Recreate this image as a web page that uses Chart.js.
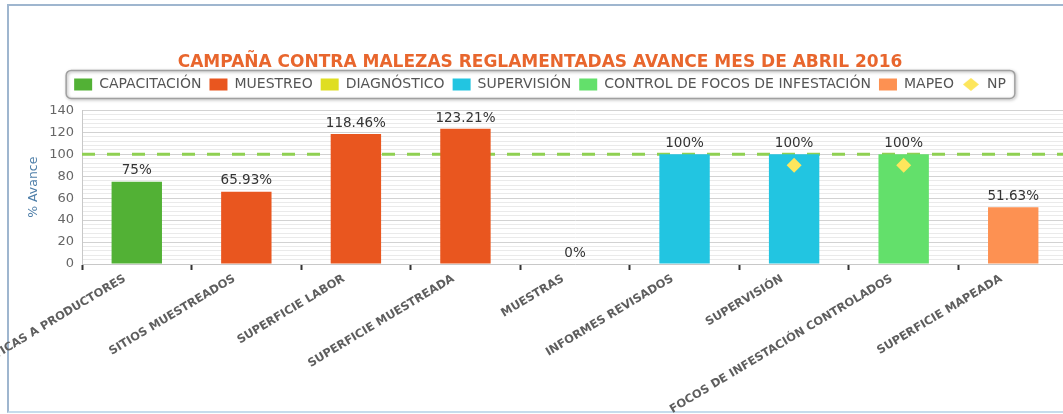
<!DOCTYPE html>
<html lang="es">
<head>
<meta charset="utf-8">
<title>Campaña contra malezas reglamentadas</title>
<script src="https://cdn.jsdelivr.net/npm/chart.js@4.4.1/dist/chart.umd.min.js"></script>
<style>
	html, body { margin: 0; padding: 0; background: #fff; overflow: hidden; }
	#wrap { position: relative; width: 1063px; height: 414px; overflow: hidden; }
	#frame {
		position: absolute; left: 7px; top: 4px; width: 1100px; height: 405px;
		border: 2px solid #9fb6cf; border-bottom-color: #c6dcec; border-right: none;
	}
	#chart { position: absolute; left: 0; top: 0; }
</style>
</head>
<body>
<div id="wrap">
	<div id="frame"></div>
	<canvas id="chart" width="1080" height="414"></canvas>
</div>
<script>
// categories and series, one value per category (null = no bar)
const categories = [
	"PLÁTICAS A PRODUCTORES",
	"SITIOS MUESTREADOS",
	"SUPERFICIE LABOR",
	"SUPERFICIE MUESTREADA",
	"MUESTRAS",
	"INFORMES REVISADOS",
	"SUPERVISIÓN",
	"FOCOS DE INFESTACIÓN CONTROLADOS",
	"SUPERFICIE MAPEADA",
];
const capacitacion = [75, null, null, null, null, null, null, null, null];
const muestreo = [null, 65.93, 118.46, 123.21, null, null, null, null, null];
const diagnostico = [null, null, null, null, 0, null, null, null, null];
const supervision = [null, null, null, null, null, 100, 100, null, null];
const controlFocos = [null, null, null, null, null, null, null, 100, null];
const mapeo = [null, null, null, null, null, null, null, null, 51.63];
const np = [null, null, null, null, null, null, 90, 90, null];

// y axis: 0..140, labels every 20, minor lines every 4
const yMin = 0;
const yMax = 140;
const yMajor = 20;
const yMinor = 4;
const metaValue = 100;

const FONT = '"DejaVu Sans", Verdana, sans-serif';
Chart.defaults.font.family = FONT;

// small diamond used as the NP legend symbol
function diamondSwatch(color) {
	const c = document.createElement("canvas");
	c.width = 16;
	c.height = 13;
	const g = c.getContext("2d");
	g.fillStyle = color;
	g.beginPath();
	g.moveTo(8, 0);
	g.lineTo(16, 6.5);
	g.lineTo(8, 13);
	g.lineTo(0, 6.5);
	g.closePath();
	g.fill();
	return c;
}
const npColor = "#fde65c";
const npSwatch = diamondSwatch(npColor);

// dashed target line at 100%, behind the bars
const metaLine = {
	id: "metaLine",
	beforeDatasetsDraw(chart) {
		const { ctx, chartArea, scales } = chart;
		const y = scales.y.getPixelForValue(metaValue);
		ctx.save();
		ctx.strokeStyle = "#8fd052";
		ctx.lineWidth = 3;
		ctx.setLineDash([13, 12]);
		ctx.beginPath();
		ctx.moveTo(chartArea.left, y);
		ctx.lineTo(chartArea.right, y);
		ctx.stroke();
		ctx.restore();
	},
};

// "75%" style labels above each bar
const barLabels = {
	id: "barLabels",
	afterDatasetsDraw(chart) {
		const ctx = chart.ctx;
		ctx.save();
		ctx.font = "13.5px " + FONT;
		ctx.fillStyle = "#333";
		ctx.textAlign = "center";
		ctx.textBaseline = "bottom";
		chart.data.datasets.forEach((ds, i) => {
			if (ds.type === "line") return;
			const meta = chart.getDatasetMeta(i);
			ds.data.forEach((v, j) => {
				if (v === null) return;
				const bar = meta.data[j];
				ctx.fillText(v + "%", bar.x, bar.y - 4);
			});
		});
		ctx.restore();
	},
};

// rounded box with shadow around the legend
const legendFrame = {
	id: "legendFrame",
	afterDraw(chart) {
		const boxes = chart.legend && chart.legend.legendHitBoxes;
		if (!boxes || !boxes.length) return;
		const first = boxes[0];
		const last = boxes[boxes.length - 1];
		const left = first.left - 8;
		const right = last.left + last.width + 9;
		const top = first.top - 7;
		const bottom = first.top + first.height + 7;
		const ctx = chart.ctx;
		ctx.save();
		ctx.shadowColor = "rgba(0,0,0,0.35)";
		ctx.shadowBlur = 3;
		ctx.shadowOffsetX = 1;
		ctx.shadowOffsetY = 1;
		ctx.strokeStyle = "#a0a0a0";
		ctx.lineWidth = 1.5;
		ctx.beginPath();
		ctx.roundRect(left, top, right - left, bottom - top, 5);
		ctx.stroke();
		ctx.restore();
	},
};

function barSet(label, data, color) {
	return {
		label: label,
		data: data,
		backgroundColor: color,
		borderWidth: 0,
		skipNull: true,
		categoryPercentage: 1,
		barPercentage: 0.46,
		order: 1,
	};
}

const ctx = document.getElementById("chart").getContext("2d");
new Chart(ctx, {
	type: "bar",
	data: {
		labels: categories,
		datasets: [
			barSet("CAPACITACIÓN", capacitacion, "#52b135"),
			barSet("MUESTREO", muestreo, "#e9561f"),
			barSet("DIAGNÓSTICO", diagnostico, "#dfde22"),
			barSet("SUPERVISIÓN", supervision, "#22c5e1"),
			barSet("CONTROL DE FOCOS DE INFESTACIÓN", controlFocos, "#63e06b"),
			barSet("MAPEO", mapeo, "#fd9152"),
			{
				type: "line",
				label: "NP",
				data: np,
				showLine: false,
				pointStyle: "rectRot",
				pointRadius: 7.5,
				pointHoverRadius: 7.5,
				backgroundColor: npColor,
				borderColor: npColor,
				borderWidth: 0,
				order: 0,
			},
		],
	},
	options: {
		responsive: false,
		animation: false,
		events: [],
		layout: { padding: { top: 52, left: 6, right: 6, bottom: 0 } },
		plugins: {
			title: {
				display: true,
				text: "CAMPAÑA CONTRA MALEZAS REGLAMENTADAS AVANCE MES DE ABRIL 2016",
				color: "#e8662d",
				font: { family: FONT, size: 17, weight: "bold" },
				padding: { top: 0, bottom: -3 },
			},
			// empty spacer between the legend and the plot
			subtitle: {
				display: true,
				text: "",
				weight: 500,
				font: { size: 1, lineHeight: 1 },
				padding: { top: 0, bottom: 8 },
			},
			legend: {
				display: true,
				position: "top",
				weight: 1800,
				labels: {
					color: "#555",
					font: { family: FONT, size: 14 },
					usePointStyle: true,
					pointStyleWidth: 18,
					boxWidth: 18,
					boxHeight: 12,
					padding: 8,
					sort: (a, b) => a.datasetIndex - b.datasetIndex,
					generateLabels(chart) {
						const items = Chart.defaults.plugins.legend.labels.generateLabels(chart);
						items.forEach((it) => {
							const ds = chart.data.datasets[it.datasetIndex];
							it.pointStyle = ds.type === "line" ? npSwatch : "rect";
							it.lineWidth = 0;
						});
						return items;
					},
				},
			},
			tooltip: { enabled: false },
		},
		scales: {
			x: {
				grid: {
					display: true,
					drawOnChartArea: false,
					drawTicks: true,
					tickLength: 6,
					tickColor: "#333",
					tickWidth: 2,
				},
				border: { display: true, color: "#c8c8c8" },
				ticks: {
					autoSkip: false,
					maxRotation: 31,
					minRotation: 31,
					padding: 2,
					labelOffset: -12,
					color: "#5e5e5e",
					font: { family: FONT, size: 11.5, weight: "bold" },
				},
				afterFit(scale) {
					scale.height = 150;
					scale.paddingLeft = 0;
					scale.paddingRight = 12;
				},
			},
			y: {
				min: yMin,
				max: yMax,
				grid: {
					drawTicks: false,
					color: (c) => (c.tick && c.tick.value % yMajor === 0 ? "#d2d2d2" : "#eaeaea"),
				},
				border: { display: true, color: "#c8c8c8" },
				ticks: {
					stepSize: yMinor,
					autoSkip: false,
					padding: 8,
					color: "#666",
					font: { family: FONT, size: 13 },
					callback: (v) => (v % yMajor === 0 ? v : ""),
				},
				title: {
					display: true,
					text: "% Avance",
					color: "#4f7fa9",
					font: { family: FONT, size: 12.5 },
					padding: { top: 20, bottom: 0 },
				},
				afterFit(scale) {
					scale.width = 76;
					scale.paddingBottom = 0;
				},
			},
		},
	},
	plugins: [metaLine, barLabels, legendFrame],
});
</script>
</body>
</html>
